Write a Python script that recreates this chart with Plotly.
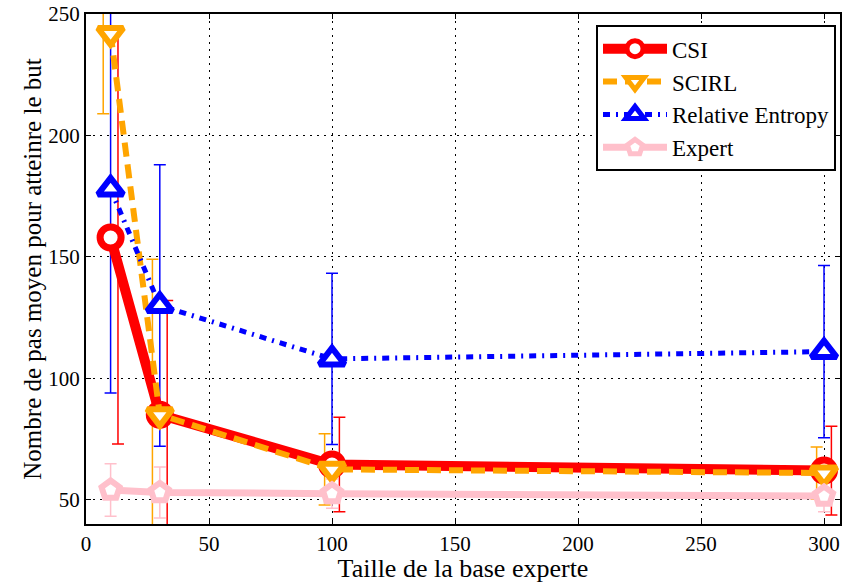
import plotly.graph_objects as go

sizes = [10, 30, 100, 300]
csi = [158, 85, 64.5, 62]
csi_err = [85, 47, 19.5, 18.3]
scirl = [242, 85, 62.5, 61]
scirl_err = [33, 64, 14.7, 10.7]
relent = [178, 130, 108, 111]
relent_err = [84, 58, 35.3, 35.5]
expert = [54, 53, 52.5, 51.5]
expert_err = [10.8, 10.5, 6, 6.5]

series = [
    ("CSI", csi, csi_err, "red", "solid", 10, "circle", 21, 7, 3),
    ("SCIRL", scirl, scirl_err, "orange", "14px,8px", 6, "triangle-down", 22, 6, -3),
    ("Relative Entropy", relent, relent_err, "blue", "7px,6px,2px,6px", 5, "triangle-up", 22, 6, 0),
    ("Expert", expert, expert_err, "pink", "solid", 7, "pentagon", 19, 6, 0),
]

FONT = "Liberation Serif, Times New Roman, serif"

fig = go.Figure()
for name, ys, errs, col, dash, lw, sym, ms, mlw, off in series:
    fig.add_trace(go.Scatter(
        x=[x + off for x in sizes], y=ys, mode="markers", showlegend=False,
        marker=dict(size=1, color="rgba(0,0,0,0)"),
        error_y=dict(type="data", array=errs, visible=True, color=col, thickness=1.5, width=6),
        hoverinfo="skip"))
for name, ys, errs, col, dash, lw, sym, ms, mlw, off in series:
    fig.add_trace(go.Scatter(
        x=sizes, y=ys, mode="lines+markers", name=name,
        line=dict(color=col, width=lw, dash=dash),
        marker=dict(symbol=sym, size=ms, color="white", line=dict(color=col, width=mlw))))

axis_common = dict(showline=True, linecolor="black", linewidth=2, mirror="ticks",
                   ticks="inside", ticklen=5, tickcolor="black",
                   showgrid=True, gridcolor="black", gridwidth=1, griddash="2px,5px",
                   zeroline=False, tickfont=dict(size=21, color="black", family=FONT))
fig.update_xaxes(range=[0, 306.5], tickvals=[0, 50, 100, 150, 200, 250, 300],
                 title=dict(text="Taille de la base experte", font=dict(size=26, color="black", family=FONT), standoff=2),
                 **axis_common)
fig.update_yaxes(range=[40, 250.05], tickvals=[50, 100, 150, 200, 250],
                 title=dict(text="Nombre de pas moyen pour atteinre le but", font=dict(size=25, color="black", family=FONT), standoff=0),
                 **axis_common)
fig.update_layout(
    width=844, height=583,
    margin=dict(l=86, r=2, t=14, b=59),
    paper_bgcolor="white", plot_bgcolor="white",
    font=dict(family=FONT, color="black"),
    legend=dict(x=0.9947, y=0.978, xanchor="right", yanchor="top",
                bordercolor="black", borderwidth=2, bgcolor="white",
                font=dict(size=23, family=FONT), itemwidth=64),
)
fig.write_html("out.html", config={"displayModeBar": False},
               post_script="document.body.style.margin='0';document.documentElement.style.overflow='hidden';")
